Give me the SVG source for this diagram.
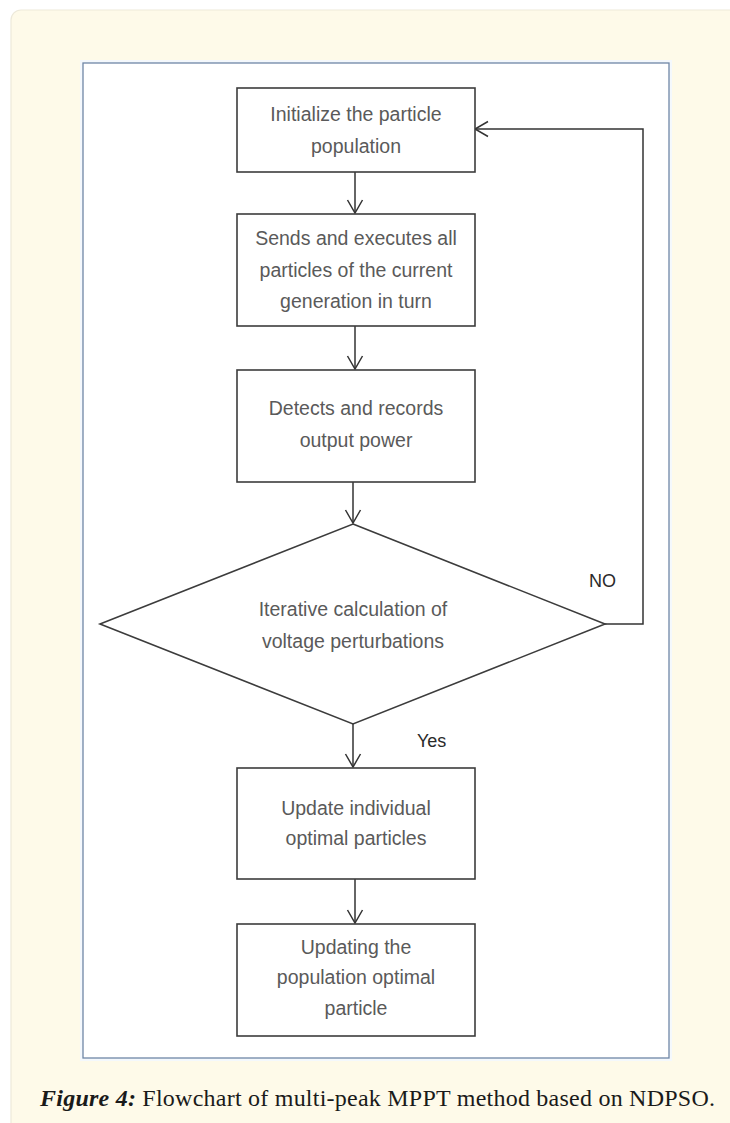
<svg xmlns="http://www.w3.org/2000/svg" width="730" height="1123" viewBox="0 0 730 1123">
  <defs>
    <style>
      .box { fill: #ffffff; stroke: #3c3c3c; stroke-width: 1.6; }
      .lbl { font-family: "Liberation Sans", Arial, sans-serif; font-size: 19.5px; fill: #5a5a5a; text-anchor: middle; }
      .tag { font-family: "Liberation Sans", Arial, sans-serif; font-size: 18px; fill: #2a2a2a; }
      .conn { fill: none; stroke: #333333; stroke-width: 1.5; marker-end: url(#arrow); }
      .cap { font-family: "Liberation Serif", "Times New Roman", serif; font-size: 24px; fill: #1a1a1a; }
    </style>
    <marker id="arrow" markerUnits="userSpaceOnUse" markerWidth="20" markerHeight="20" viewBox="-15 -10 17 20" refX="0" refY="0" orient="auto">
      <path d="M-13,-7.5 L0,0 L-13,7.5" fill="none" stroke="#333333" stroke-width="1.5"/>
    </marker>
  </defs>

  <!-- page background -->
  <rect x="0" y="0" width="730" height="1123" fill="#ffffff"/>
  <rect x="11" y="10" width="740" height="1130" rx="10" ry="10" fill="#fefae9" stroke="#ede9da" stroke-width="1.2"/>

  <!-- figure frame -->
  <rect x="83" y="63" width="586" height="995" fill="#ffffff" stroke="#f4f8fc" stroke-width="6"/>
  <rect x="83" y="63" width="586" height="995" fill="#ffffff" stroke="#6f86a6" stroke-width="1.3"/>

  <g id="connectors">
    <line class="conn" x1="355" y1="172" x2="355" y2="213"/>
    <line class="conn" x1="355" y1="326" x2="355" y2="369"/>
    <line class="conn" x1="353" y1="482" x2="353" y2="523"/>
    <line class="conn" x1="353" y1="724" x2="353" y2="767"/>
    <line class="conn" x1="355" y1="879" x2="355" y2="923"/>
    <polyline class="conn" points="605,624 643,624 643,129 475,129"/>
  </g>

  <g id="n1">
    <rect class="box" x="237" y="88" width="238" height="84"/>
    <text class="lbl" x="356" y="121">Initialize the particle</text>
    <text class="lbl" x="356" y="153">population</text>
  </g>

  <g id="n2">
    <rect class="box" x="237" y="214" width="238" height="112"/>
    <text class="lbl" x="356" y="245">Sends and executes all</text>
    <text class="lbl" x="356" y="277">particles of the current</text>
    <text class="lbl" x="356" y="308">generation in turn</text>
  </g>

  <g id="n3">
    <rect class="box" x="237" y="370" width="238" height="112"/>
    <text class="lbl" x="356" y="415">Detects and records</text>
    <text class="lbl" x="356" y="447">output power</text>
  </g>

  <g id="n4">
    <polygon class="box" points="353,524 605,624 353,724 100,624"/>
    <text class="lbl" x="353" y="616">Iterative calculation of</text>
    <text class="lbl" x="353" y="648">voltage perturbations</text>
  </g>

  <g id="n5">
    <rect class="box" x="237" y="768" width="238" height="111"/>
    <text class="lbl" x="356" y="815">Update individual</text>
    <text class="lbl" x="356" y="845">optimal particles</text>
  </g>

  <g id="n6">
    <rect class="box" x="237" y="924" width="238" height="112"/>
    <text class="lbl" x="356" y="954">Updating the</text>
    <text class="lbl" x="356" y="984">population optimal</text>
    <text class="lbl" x="356" y="1015">particle</text>
  </g>

  <g id="labels">
    <text class="tag" x="589" y="587">NO</text>
    <text class="tag" x="417" y="747">Yes</text>
  </g>

  <text class="cap" x="40" y="1106" textLength="675" lengthAdjust="spacing"><tspan font-weight="bold" font-style="italic">Figure 4:</tspan> Flowchart of multi-peak MPPT method based on NDPSO.</text>
</svg>
